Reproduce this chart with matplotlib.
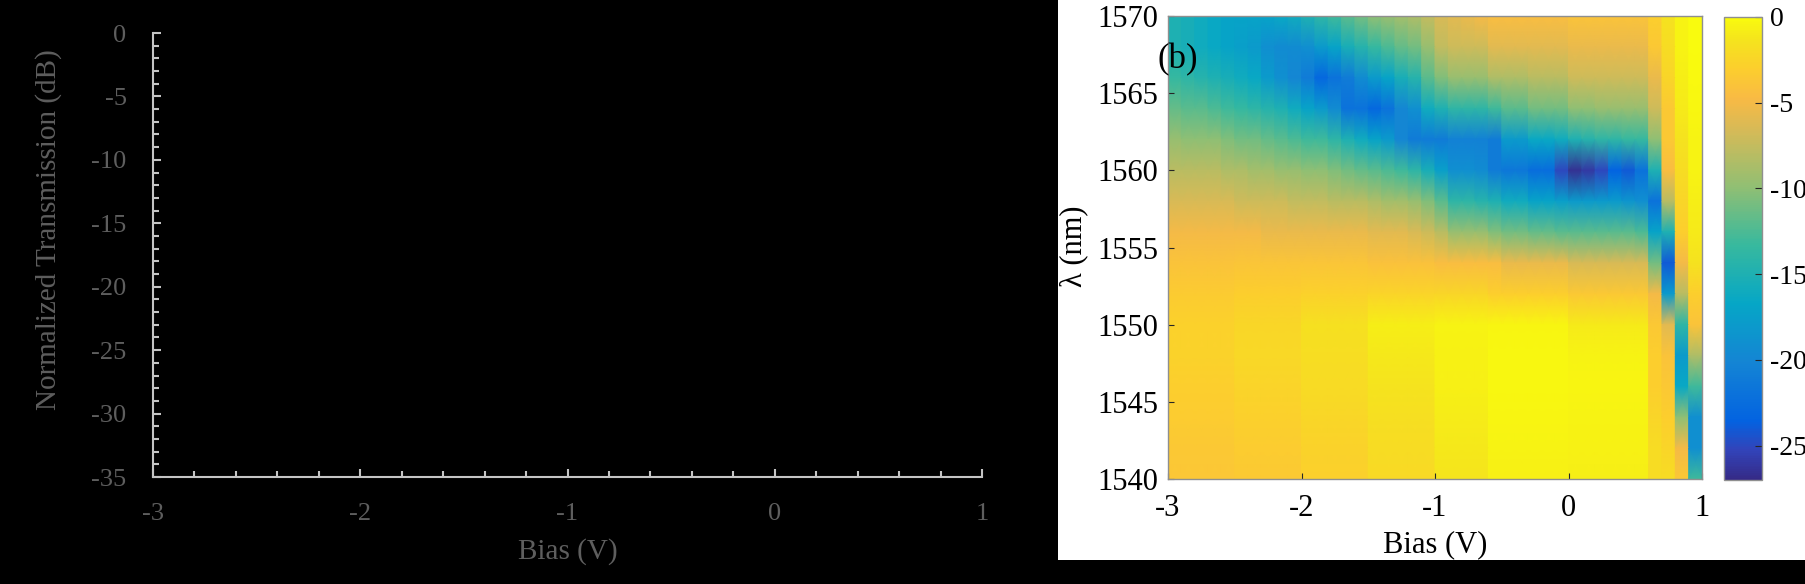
import numpy as np
import matplotlib
matplotlib.use('Agg')
import matplotlib.pyplot as plt
from matplotlib.colors import LinearSegmentedColormap
from matplotlib.patches import Rectangle
from matplotlib.ticker import MultipleLocator

plt.rcParams['font.family'] = ['Liberation Serif', 'DejaVu Serif']
plt.rcParams['axes.unicode_minus'] = False

# wavelength samples (nm), top to bottom
wavelength_nm = [1570, 1568, 1566, 1564, 1562, 1560, 1558, 1556,
                 1554, 1552, 1550, 1548, 1546, 1544, 1542, 1540]

# bias column edges (V), 40 columns of 0.1 V
bias_edges = np.linspace(-3.0, 1.0, 41)

# transmission (dB), one list per bias column, values follow wavelength_nm
cols_m3_m2 = [
    [-15, -15, -13.5, -11.5, -9.5, -8, -6.5, -5, -4, -3.3, -2.8, -2.7, -3, -3.2, -3.5, -3.6],
    [-15.5, -15.5, -14, -12, -10, -8, -6.5, -5, -4, -3.3, -2.8, -2.7, -3, -3.2, -3.5, -3.6],
    [-16, -16, -14.5, -12, -10, -8, -6.5, -5, -4, -3.3, -2.8, -2.7, -3, -3.2, -3.5, -3.6],
    [-16.5, -16.5, -15, -12.5, -10, -8, -6.5, -5, -4, -3.3, -2.8, -2.7, -3, -3.2, -3.5, -3.6],
    [-17, -17, -15.5, -13, -10.5, -8.5, -6.5, -5, -4, -3.3, -2.8, -2.7, -3, -3.2, -3.5, -3.6],
    [-17, -17.5, -16, -13.5, -11, -8.5, -7, -5, -3.8, -3, -2.4, -2.3, -2.6, -2.9, -3.2, -3.4],
    [-17, -18, -16.5, -14, -11, -9, -7, -5, -3.8, -3, -2.4, -2.3, -2.6, -2.9, -3.2, -3.4],
    [-17, -19, -18, -14.5, -11.5, -9, -7, -5.5, -3.8, -3, -2.4, -2.3, -2.6, -2.9, -3.2, -3.4],
    [-16.5, -19.5, -19, -15, -12, -9.5, -7, -5.5, -3.8, -3, -2.4, -2.3, -2.6, -2.9, -3.2, -3.4],
    [-16, -19.5, -20, -16, -12.5, -9.5, -7.5, -5.5, -3.8, -3, -2.4, -2.3, -2.6, -2.9, -3.2, -3.4],
]
cols_m2_m1 = [
    [-15, -19, -21, -17, -13, -10, -7.5, -5.5, -3.8, -2.8, -1.6, -1.8, -2.1, -2.4, -2.7, -2.9],
    [-14, -18, -23, -18, -13, -10, -7.5, -5.5, -3.8, -2.8, -1.6, -1.8, -2.1, -2.4, -2.7, -2.9],
    [-13, -17, -22, -19.5, -14, -10.5, -8, -5.5, -3.8, -2.8, -1.6, -1.8, -2.1, -2.4, -2.7, -2.9],
    [-12, -15.5, -21, -22, -15, -11, -8, -5.5, -3.8, -2.8, -1.6, -1.8, -2.1, -2.4, -2.7, -2.9],
    [-11, -14.5, -19.5, -22, -16, -11.5, -8, -5.5, -3.8, -2.8, -1.6, -1.8, -2.1, -2.4, -2.7, -2.9],
    [-10, -13.5, -18, -23, -17, -12, -8.5, -6, -4.2, -2.6, -0.8, -1.1, -1.4, -1.7, -2, -2.2],
    [-9.5, -12.5, -17, -22, -18, -12.5, -9, -6, -4.2, -2.6, -0.8, -1.1, -1.4, -1.7, -2, -2.2],
    [-9, -11.5, -15.5, -20, -20, -13, -9, -6, -4.2, -2.6, -0.8, -1.1, -1.4, -1.7, -2, -2.2],
    [-8.5, -11, -14.5, -19, -21, -14, -9.5, -6.5, -4.2, -2.6, -0.8, -1.1, -1.4, -1.7, -2, -2.2],
    [-7.5, -9.5, -12, -16, -21, -15.5, -10.5, -7, -4.2, -2.6, -0.8, -1.1, -1.4, -1.7, -2, -2.2],
]
cols_m1_0 = [
    [-6.5, -7.5, -10.5, -15, -21, -17.5, -12, -8, -4.5, -2.5, -0.5, -0.6, -0.7, -0.9, -1.1, -1.3],
    [-6, -7, -9.5, -14, -20.5, -19, -14, -9.5, -4.5, -2.5, -0.5, -0.6, -0.7, -0.9, -1.1, -1.3],
    [-5.5, -7, -9.5, -14, -20.5, -19, -14, -9.5, -4.5, -2.5, -0.5, -0.6, -0.7, -0.9, -1.1, -1.3],
    [-5, -7, -9.5, -14, -20.5, -19.5, -14.5, -9.5, -4.5, -2.5, -0.5, -0.6, -0.7, -0.9, -1.1, -1.3],
    [-4.5, -6, -8.5, -13, -21, -21, -15, -10.5, -4.5, -3, -0.4, -0.3, -0.3, -0.4, -0.5, -0.7],
    [-4.5, -6, -8.5, -12, -18, -21.5, -16, -11, -5.5, -3, -0.4, -0.3, -0.3, -0.4, -0.5, -0.7],
    [-4.5, -6, -8.5, -12, -18, -21.5, -16, -11, -5.5, -3, -0.4, -0.3, -0.3, -0.4, -0.5, -0.7],
    [-4.5, -6, -8, -11, -16.5, -22.5, -17, -11.5, -5.5, -3, -0.4, -0.3, -0.3, -0.4, -0.5, -0.7],
    [-4.5, -6, -8, -11, -16.5, -22.5, -17, -11.5, -5.5, -3, -0.4, -0.3, -0.3, -0.4, -0.5, -0.7],
    [-4.5, -6, -8, -11, -16, -25, -17.5, -12, -5.5, -3, -0.4, -0.3, -0.3, -0.4, -0.5, -0.7],
]
cols_0_1 = [
    [-4, -5.5, -7, -10, -15, -26.5, -18, -12, -6.5, -3.5, -1, -0.5, -0.4, -0.5, -0.6, -0.8],
    [-4, -5.5, -7, -10, -14.5, -26, -18, -12, -6.5, -3.5, -1, -0.5, -0.4, -0.5, -0.6, -0.8],
    [-4, -5.5, -7, -9.5, -14, -25, -18, -12, -6.5, -3.5, -1, -0.5, -0.4, -0.5, -0.6, -0.8],
    [-4, -5.5, -7, -9.5, -14, -23.5, -18, -12, -6.5, -3.5, -1, -0.5, -0.4, -0.5, -0.6, -0.8],
    [-4, -5.5, -7, -9.5, -13.5, -24, -18.5, -12, -6.5, -3.5, -1, -0.5, -0.4, -0.5, -0.6, -0.8],
    [-4, -5.5, -7, -9.5, -13.5, -22, -19, -12.5, -6.5, -3.5, -1, -0.5, -0.4, -0.5, -0.6, -0.8],
    [-3, -3.5, -5.5, -7, -10, -15, -22, -17, -11, -5, -3.5, -3, -3, -2.5, -2, -2],
    [-1.5, -2, -2.5, -3.5, -3.5, -4.5, -8, -15, -24, -18, -6, -4, -3.5, -3, -2.5, -2],
    [-0.5, -0.5, -0.8, -1, -1.5, -2, -2.5, -3, -5, -8, -14, -18, -16.5, -10, -5, -3.5],
    [0, 0, -0.2, -0.3, -0.5, -0.5, -0.8, -1, -1.5, -3, -4, -8.5, -13, -19, -19, -13],
]

cbar_ticks = [0, -5, -10, -15, -20, -25]

# parula-like colormap
parula_pos = [0, 4, 8, 16, 24, 32, 40, 48, 52, 56, 60, 63]
parula_rgb = [
    (0.2081, 0.1663, 0.5292), (0.1959, 0.2645, 0.7279), (0.0117, 0.3875, 0.8820),
    (0.0793, 0.5200, 0.8312), (0.0228, 0.6535, 0.7768), (0.2178, 0.7250, 0.6193),
    (0.5709, 0.7485, 0.4494), (0.8507, 0.7299, 0.3360), (0.9739, 0.7314, 0.2666),
    (0.9880, 0.8066, 0.1794), (0.9589, 0.8949, 0.1132), (0.9763, 0.9831, 0.0538),
]
parula = LinearSegmentedColormap.from_list(
    'parula', [(p / 63, c) for p, c in zip(parula_pos, parula_rgb)], N=256)

W, H = 1805, 584
def fig_rect(x0, y0, x1, y1):
    # pixel box (top-left origin) -> figure fraction rect
    return [x0 / W, 1 - y1 / H, (x1 - x0) / W, (y1 - y0) / H]

fig = plt.figure(figsize=(W / 100, H / 100), dpi=100, facecolor='black')
fig.add_artist(Rectangle((1058 / W, 1 - 560 / H), 1 - 1058 / W, 560 / H,
                         transform=fig.transFigure, facecolor='white',
                         edgecolor='none', zorder=0))

# ---- left panel: empty transmission axes on black ----
gray_line = '#c4c4c4'
gray_text = '#5e5e5e'
ax1 = fig.add_axes(fig_rect(153, 33, 982, 477), facecolor='black')
ax1.set_xlim(-3, 1)
ax1.set_ylim(-35, 0)
ax1.xaxis.set_major_locator(MultipleLocator(1))
ax1.xaxis.set_minor_locator(MultipleLocator(0.2))
ax1.yaxis.set_major_locator(MultipleLocator(5))
ax1.yaxis.set_minor_locator(MultipleLocator(1))
for side in ['top', 'right']:
    ax1.spines[side].set_visible(False)
for side in ['left', 'bottom']:
    ax1.spines[side].set_color(gray_line)
    ax1.spines[side].set_linewidth(1.5)
ax1.tick_params(which='both', direction='in', color=gray_line, width=1.5,
                labelcolor=gray_text, labelsize=19, pad=19)
ax1.tick_params(which='major', length=6)
ax1.tick_params(which='minor', length=4)
ax1.set_xlabel('Bias (V)', fontsize=21, color=gray_text, va='center')
ax1.xaxis.set_label_coords(0.5, -0.167)
ax1.set_ylabel('Normalized Transmission (dB)', fontsize=21, color=gray_text, va='center')
ax1.yaxis.set_label_coords(-0.1255, 0.557)

# ---- right panel: transmission map ----
ax2 = fig.add_axes(fig_rect(1168, 16, 1702, 479))
columns = cols_m3_m2 + cols_m2_m1 + cols_m1_0 + cols_0_1
# each bias column is flat in x and shaded linearly between wavelength samples
xv, cv = [], []
for k, col in enumerate(columns):
    xv += [bias_edges[k], bias_edges[k + 1]]
    cv += [col, col]
X, Y = np.meshgrid(xv, wavelength_nm)
C = np.array(cv).T
mesh = ax2.pcolormesh(X, Y, C, shading='gouraud', cmap=parula, vmin=-27, vmax=0)
ax2.set_xlim(-3, 1)
ax2.set_ylim(1540, 1570)
ax2.set_xticks([-3, -2, -1, 0, 1])
ax2.set_yticks([1540, 1545, 1550, 1555, 1560, 1565, 1570])
for sp in ax2.spines.values():
    sp.set_color('#8f8f8f')
    sp.set_linewidth(1)
ax2.tick_params(direction='in', length=4, color='#262626', labelsize=22,
                labelcolor='black')
ax2.tick_params(axis='x', pad=11)
ax2.tick_params(axis='y', pad=7)
ax2.set_xlabel('Bias (V)', fontsize=22, va='center')
ax2.xaxis.set_label_coords(0.5, -0.1425)
ax2.set_ylabel('λ (nm)', fontsize=22, va='center')
ax2.yaxis.set_label_coords(-0.176, 0.503)
ax2.text(0.0178, 0.906, '(b)', transform=ax2.transAxes, fontsize=25,
         ha='center', va='center', clip_on=False)

cax = fig.add_axes(fig_rect(1724, 17, 1762, 480))
cb = fig.colorbar(mesh, cax=cax, ticks=cbar_ticks)
cb.outline.set_edgecolor('#8f8f8f')
cb.outline.set_linewidth(1)
cax.tick_params(direction='in', length=5, color='#262626', labelsize=20, pad=6)

fig.savefig('out.png', dpi=100, facecolor=fig.get_facecolor())
